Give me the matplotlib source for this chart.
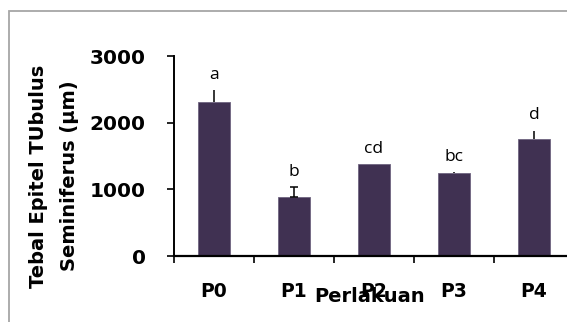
import matplotlib
matplotlib.use("Agg")
import matplotlib.pyplot as plt
from matplotlib.patches import Rectangle

# data
groups = ['P0', 'P1', 'P2', 'P3', 'P4']
means = [2305, 880, 1380, 1250, 1748]
errors = [182, 148, 0, 12, 130]
letters = ['a', 'b', 'cd', 'bc', 'd']
caps = [0, 3, 0, 0, 0]
yticks = [0, 1000, 2000, 3000]

bar_color = '#403152'
bold_font = 'DejaVu Sans'

fig = plt.figure(figsize=(5.67, 3.22), dpi=100)
W, H = 567, 322

# gray chart frame (right and bottom edges fall outside the picture)
fig.patches.append(Rectangle((8.5 / W, -0.1), 1.1, 1 - 10.5 / H + 0.1,
                             transform=fig.transFigure, fill=False,
                             edgecolor='#a6a6a6', linewidth=1.3))

ax = fig.add_axes([174 / W, 66 / H, 400 / W, 200 / H])
x = list(range(len(groups)))
ax.bar(x, means, width=0.4, color=bar_color, edgecolor='#6f6480', linewidth=0.6, zorder=2)
for xi, m, e, c in zip(x, means, errors, caps):
    if e > 0:
        ax.errorbar(xi, m, yerr=[[0], [e]], fmt='none', ecolor='black',
                    elinewidth=1.1, capsize=c, capthick=1.1, zorder=3)
    ax.text(xi, m + e + 170, letters[xi], ha='center', va='baseline',
            fontsize=12.5, family='Open Sans')

ax.set_xlim(-0.5, 4.5)
ax.set_ylim(0, 3000)
ax.set_yticks(yticks)
ax.set_yticklabels([str(t) for t in yticks], fontsize=14.5, fontweight='bold', family=bold_font)
ax.set_xticks(x)
ax.set_xticklabels(groups, fontsize=13.5, fontweight='bold', family=bold_font)
ax.set_xticks([i - 0.5 for i in range(len(groups) + 1)], minor=True)
ax.tick_params(axis='x', which='major', length=0, pad=19)
ax.tick_params(axis='x', which='minor', length=5, width=1.2, direction='out')
ax.tick_params(axis='y', length=5, width=1.2, direction='out', pad=15.5)

for s in ['top', 'right']:
    ax.spines[s].set_visible(False)
ax.spines['left'].set_linewidth(1.4)
ax.spines['bottom'].set_linewidth(1.6)
ax.patch.set_visible(False)

fig.text(54 / W, 1 - 176 / H, 'Tebal Epitel TUbulus\nSeminiferus (µm)', rotation=90,
         ha='center', va='center', fontsize=14, fontweight='bold', family=bold_font,
         linespacing=1.75, multialignment='center')
fig.text(370 / W, 1 - 286.5 / H, 'Perlakuan', ha='center', va='top',
         fontsize=14, fontweight='bold', family=bold_font)

plt.savefig('out.png', dpi=100)
